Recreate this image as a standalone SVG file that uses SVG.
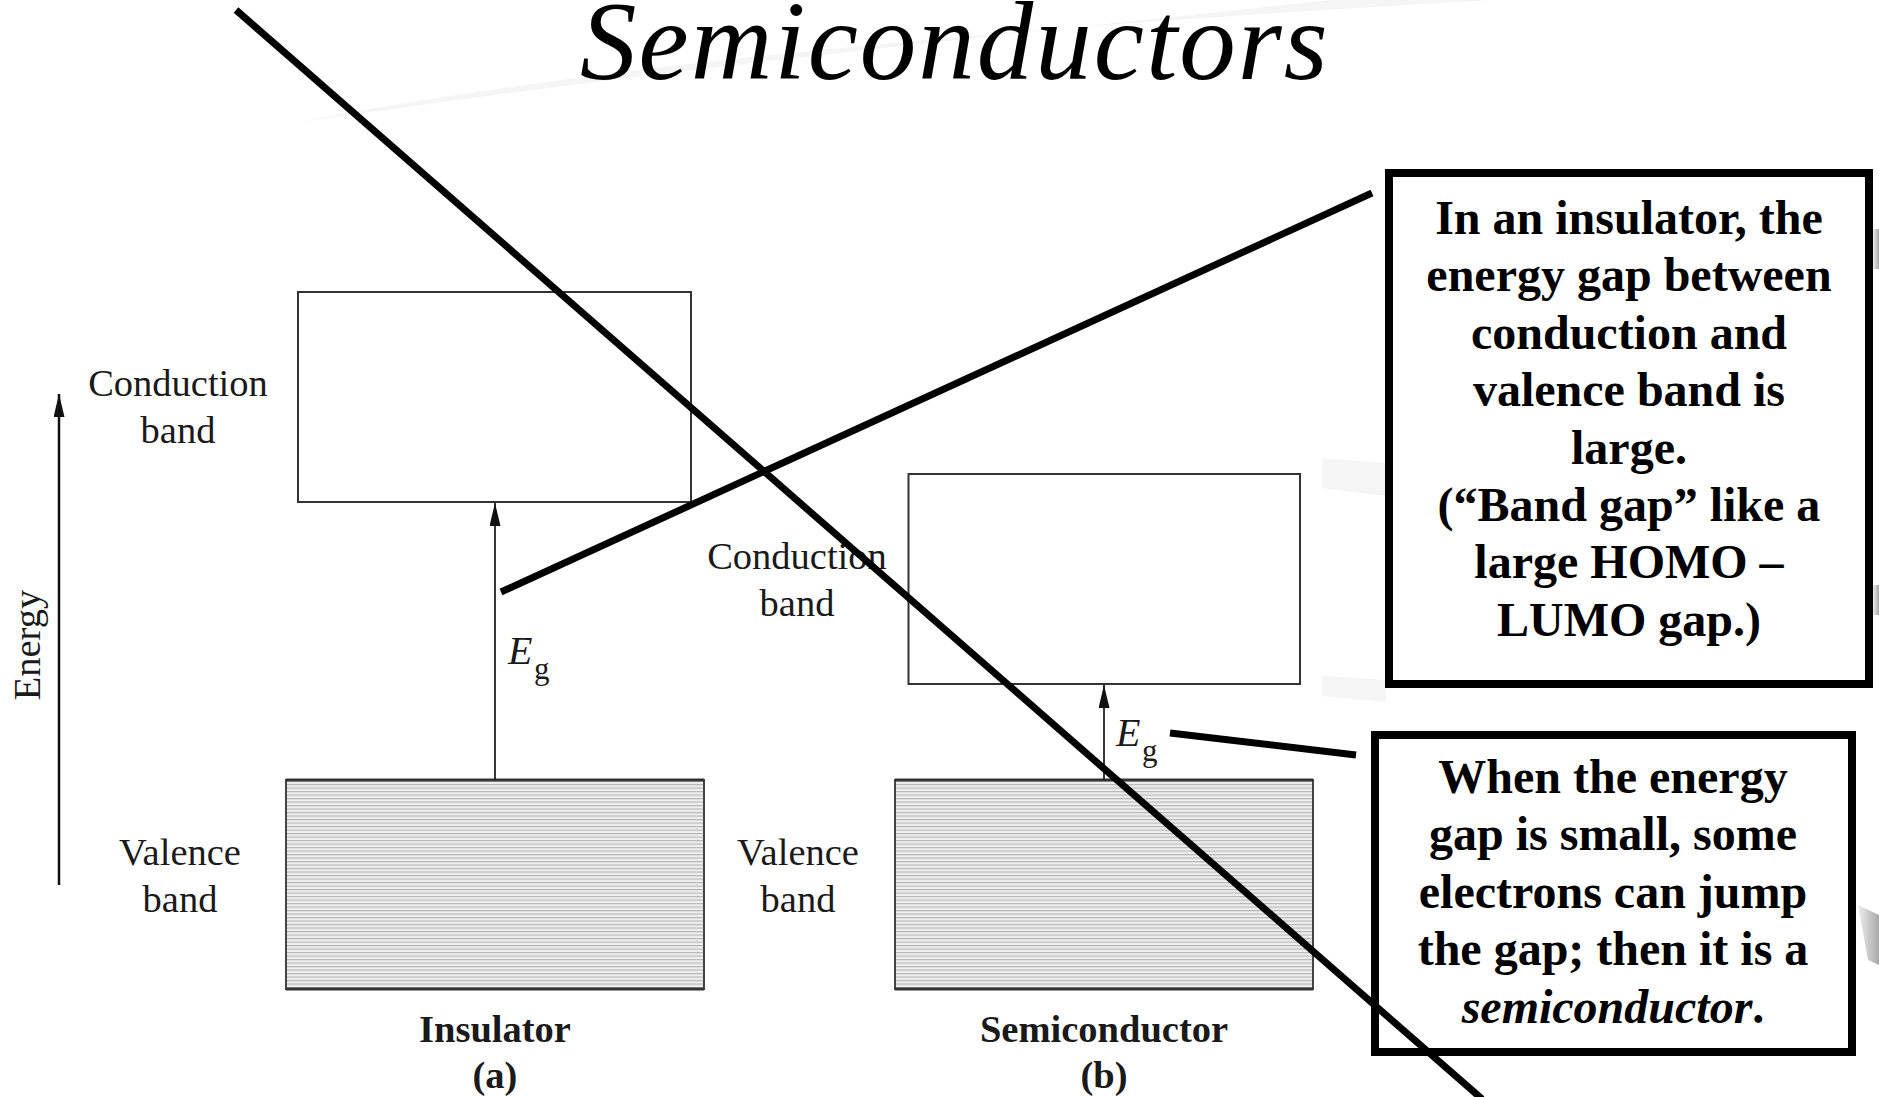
<svg xmlns="http://www.w3.org/2000/svg" width="1879" height="1097" viewBox="0 0 1879 1097">
<style>
.fig{font-family:"Liberation Serif","Times New Roman",serif;font-size:38.5px;fill:#1a1a1a}
.figb{font-family:"Liberation Serif","Times New Roman",serif;font-size:38.5px;font-weight:bold;fill:#1a1a1a}
.eg{font-family:"Liberation Serif","Times New Roman",serif;font-style:italic;font-size:40px;fill:#1a1a1a}
.sub{font-family:"Liberation Serif","Times New Roman",serif;font-size:31px;fill:#1a1a1a}
.note{font-family:"Liberation Serif","Times New Roman",serif;font-size:48px;font-weight:bold;fill:#000;text-anchor:middle}
.box{fill:#fff;stroke:#000;stroke-width:8}
.cb{fill:#fff;stroke:#333;stroke-width:2}
.vb{fill:url(#hatch);stroke:#444;stroke-width:2}
.edge{stroke:#333;stroke-width:3}
.arr{stroke:#222;stroke-width:1.8;fill:none;marker-end:url(#ah)}
.thick{stroke:#000;stroke-width:7;fill:none}
.bg{fill:#f5f5f5}
</style>
<defs>
<pattern id="hatch" patternUnits="userSpaceOnUse" width="10" height="3.5">
<rect width="10" height="3.5" fill="#eeeeee"/>
<rect width="10" height="1.2" fill="#b8b8b8"/>
</pattern>
<marker id="ah" markerUnits="userSpaceOnUse" markerWidth="24" markerHeight="12" refX="23" refY="5.5" orient="auto">
<path d="M0,0 L23,5.5 L0,11 z" fill="#111"/>
</marker>
<linearGradient id="edgeg" x1="0" y1="0" x2="1" y2="0">
<stop offset="0" stop-color="#eeeeee"/>
<stop offset="1" stop-color="#a8a8a8"/>
</linearGradient>
</defs>
<rect width="1879" height="1097" fill="#fff"/>
<g id="background">
<path class="bg" d="M300,122 C620,60 1050,25 1490,0 L1330,0 C1000,35 640,72 300,122 Z"/>
<path class="bg" d="M1322,458 L1386,463 L1386,496 L1322,488 Z"/>
<path class="bg" d="M1322,676 L1386,680 L1386,702 L1322,696 Z"/>
<rect x="1873" y="229" width="6" height="40" fill="url(#edgeg)"/>
<rect x="1873" y="585" width="6" height="30" fill="url(#edgeg)"/>
<path d="M1858,905 L1879,915 L1879,965 L1868,960 Z" fill="url(#edgeg)"/>
</g>
<g id="title">
<text x="580" y="79" font-family="'Liberation Serif','Times New Roman',serif" font-style="italic" font-size="113" letter-spacing="2" fill="#000">Semiconductors</text>
</g>
<g id="energy-axis">
<line x1="59" y1="885" x2="59" y2="394" stroke="#111" stroke-width="2.5" marker-end="url(#ah)"/>
<text class="fig" transform="translate(40,645) rotate(-90)" text-anchor="middle">Energy</text>
</g>
<g id="insulator">
<rect class="cb" x="298" y="292" width="393" height="210"/>
<text class="fig" x="178" y="396" text-anchor="middle">Conduction</text>
<text class="fig" x="178" y="443" text-anchor="middle">band</text>
<rect class="vb" x="286" y="780" width="418" height="209"/>
<line class="edge" x1="286" y1="780" x2="704" y2="780"/>
<line class="edge" x1="286" y1="989" x2="704" y2="989"/>
<text class="fig" x="180" y="865" text-anchor="middle">Valence</text>
<text class="fig" x="180" y="912" text-anchor="middle">band</text>
<line class="arr" x1="495" y1="780" x2="495" y2="503"/>
<text class="eg" x="508" y="664">E</text>
<text class="sub" x="534" y="679">g</text>
<text class="figb" x="495" y="1042" text-anchor="middle">Insulator</text>
<text class="figb" x="495" y="1088" text-anchor="middle">(a)</text>
</g>
<g id="semiconductor">
<rect class="cb" x="908.5" y="474" width="391.5" height="210"/>
<text class="fig" x="797" y="569" text-anchor="middle">Conduction</text>
<text class="fig" x="797" y="616" text-anchor="middle">band</text>
<rect class="vb" x="895" y="780" width="418" height="209"/>
<line class="edge" x1="895" y1="780" x2="1313" y2="780"/>
<line class="edge" x1="895" y1="989" x2="1313" y2="989"/>
<text class="fig" x="798" y="865" text-anchor="middle">Valence</text>
<text class="fig" x="798" y="912" text-anchor="middle">band</text>
<line class="arr" x1="1104" y1="780" x2="1104" y2="685"/>
<text class="eg" x="1116" y="746">E</text>
<text class="sub" x="1142" y="761">g</text>
<text class="figb" x="1104" y="1042" text-anchor="middle">Semiconductor</text>
<text class="figb" x="1104" y="1088" text-anchor="middle">(b)</text>
</g>
<g id="note-insulator">
<rect class="box" x="1389" y="173" width="480" height="511"/>
<text class="note" x="1629" y="234">In an insulator, the</text>
<text class="note" x="1629" y="291">energy gap between</text>
<text class="note" x="1629" y="349">conduction and</text>
<text class="note" x="1629" y="406">valence band is</text>
<text class="note" x="1629" y="464">large.</text>
<text class="note" x="1629" y="521">(“Band gap” like a</text>
<text class="note" x="1629" y="578">large HOMO –</text>
<text class="note" x="1629" y="636">LUMO gap.)</text>
</g>
<g id="note-semiconductor">
<rect class="box" x="1375" y="735" width="477" height="317"/>
<text class="note" x="1613" y="793">When the energy</text>
<text class="note" x="1613" y="850">gap is small, some</text>
<text class="note" x="1613" y="908">electrons can jump</text>
<text class="note" x="1613" y="965">the gap; then it is a</text>
<text class="note" x="1613" y="1023"><tspan font-style="italic">semiconductor</tspan>.</text>
</g>
<g id="connectors">
<line class="thick" x1="236" y1="10" x2="1482" y2="1099"/>
<line class="thick" x1="501" y1="592" x2="1372" y2="193"/>
<line class="thick" x1="1170" y1="733" x2="1356" y2="755"/>
</g>
</svg>
